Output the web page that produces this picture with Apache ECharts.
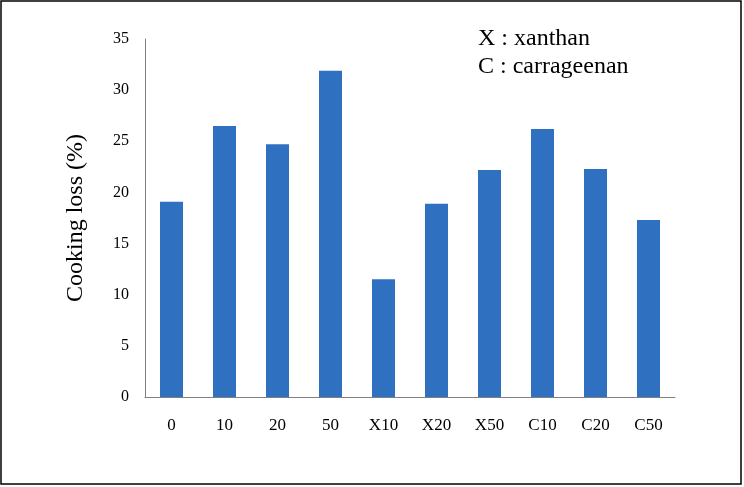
<!DOCTYPE html>
<html>
<head>
<meta charset="utf-8">
<script src="https://cdn.jsdelivr.net/npm/echarts@6/dist/echarts.min.js"></script>
<style>
html,body{margin:0;padding:0;background:#fff;}
#chart{width:744px;height:487px;}
</style>
</head>
<body>
<div id="chart"></div>
<script>
const categories = ['0','10','20','50','X10','X20','X50','C10','C20','C50'];
const cookingLoss = [19.1, 26.5, 24.7, 31.9, 11.5, 18.9, 22.2, 26.2, 22.3, 17.3];
const yTicks = {min: 0, max: 35, interval: 5};
const legendLines = ['X : xanthan', 'C : carrageenan'];

const font = '"Liberation Serif", "Times New Roman", serif';
const chart = echarts.init(document.getElementById('chart'));
chart.setOption({
  animation: false,
  backgroundColor: '#fff',
  grid: {left: 145, right: 69, top: 39, bottom: 90, containLabel: false},
  xAxis: {
    type: 'category',
    data: categories,
    axisLine: {lineStyle: {color: '#808080', width: 1}},
    axisTick: {show: false},
    axisLabel: {color: '#000', fontFamily: font, fontSize: 17, margin: 20}
  },
  yAxis: {
    type: 'value',
    min: yTicks.min, max: yTicks.max, interval: yTicks.interval,
    name: 'Cooking loss (%)',
    nameLocation: 'middle',
    nameGap: 57,
    nameRotate: 90,
    nameTextStyle: {color: '#000', fontFamily: font, fontSize: 24},
    axisLine: {show: true, lineStyle: {color: '#808080', width: 1}},
    axisTick: {show: false},
    splitLine: {show: false},
    axisLabel: {color: '#000', fontFamily: font, fontSize: 16, margin: 16}
  },
  series: [{
    type: 'bar',
    data: cookingLoss,
    barWidth: 23,
    itemStyle: {color: '#3070C0'}
  }],
  graphic: [
    {type: 'rect', shape: {x: 1, y: 1, width: 740, height: 483},
     style: {fill: 'none', stroke: '#000', lineWidth: 1.5}, silent: true},
    {type: 'text', left: 478, top: 27,
     style: {text: legendLines[0], font: '24px ' + font, fill: '#000'}},
    {type: 'text', left: 478, top: 55,
     style: {text: legendLines[1], font: '24px ' + font, fill: '#000'}}
  ]
});
</script>
</body>
</html>
